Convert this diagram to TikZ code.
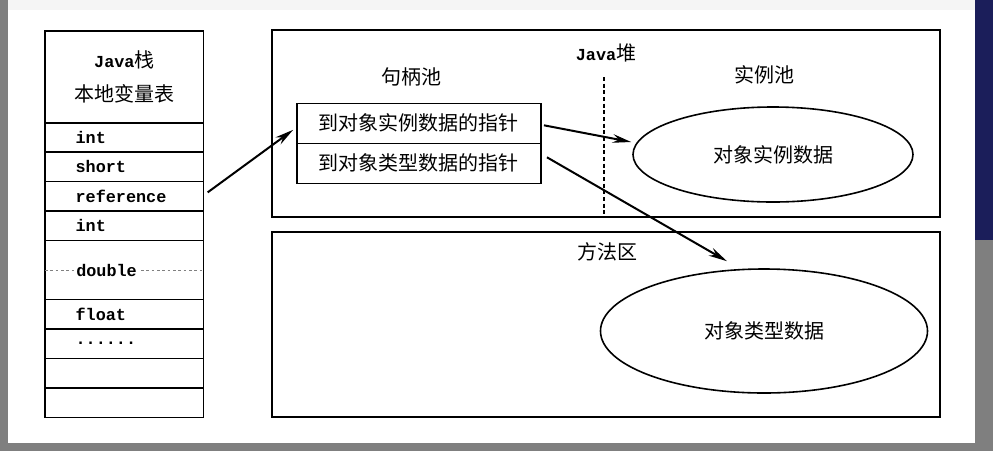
\documentclass[tikz,border=0pt]{standalone}
\usepackage{fontspec}
\setmonofont{Liberation Mono}
\newfontfamily\cjk{Noto Sans CJK SC}
\usetikzlibrary{positioning}
\usetikzlibrary{shapes.geometric}
\usetikzlibrary{arrows.meta}
\usetikzlibrary{calc}
\definecolor{pagegray}{HTML}{7F7F7F}
\definecolor{topgray}{HTML}{F5F5F5}
\definecolor{navy}{HTML}{1B1E5A}
\newcommand{\jtt}[1]{{\ttfamily\bfseries\fontsize{12.6}{18}\selectfont #1}}
\tikzset{
 box/.style={draw,line width=1.2pt,inner sep=0pt,outer sep=0pt},
 slot/.style={box,minimum width=119pt,minimum height=22.1pt,text width=73pt,inner xsep=23pt,align=left,font=\ttfamily\bfseries\fontsize{12.6}{14}\selectfont},
 zh/.style={font=\cjk\fontsize{15}{18}\selectfont},
 hcell/.style={box,zh,minimum width=183.2pt,minimum height=30pt},
 blob/.style={draw,ellipse,line width=1.2pt,inner sep=0pt,zh},
 ptr/.style={line width=1.5pt,-{Stealth[length=14pt,width=6.5pt]}},
}

\begin{document}
\begin{tikzpicture}[x=0.75pt,y=-0.75pt]
 \useasboundingbox (0,0) rectangle (993,451);
 \fill[pagegray] (0,0) rectangle (993,451);
 \fill[navy] (975,0) rectangle (993,240);
 \fill[topgray] (8,0) rectangle (975,10);
 \fill[white] (8,10) rectangle (975,443);

 \node[box,zh,minimum width=119pt,minimum height=69pt,align=center,anchor=north west] (stk) at (45,30.7) {\jtt{Java}栈\\[7.5pt]本地变量表};
 \node[slot,below=0pt of stk] (s1) {int};
 \node[slot,below=0pt of s1] (s2) {short};
 \node[slot,below=0pt of s2] (sref) {reference};
 \node[slot,below=0pt of sref] (s4) {int};
 \node[slot,below=0pt of s4,minimum height=44.2pt] (sdbl) {};
 \node[slot,below=0pt of sdbl] (s6) {float};
 \node[slot,below=0pt of s6] (s7) {......};
 \node[slot,below=0pt of s7] (s8) {};
 \node[slot,below=0pt of s8] (s9) {};
 \draw[gray,dash pattern=on 2pt off 2pt] (sdbl.west) -- (sdbl.east);
 \node[fill=white,inner sep=1.5pt,anchor=west,font=\ttfamily\bfseries\fontsize{12.6}{14}\selectfont] (dbl) at ($(sdbl.west)+(29,0)$) {double};

 \node[box,minimum width=501pt,minimum height=140.25pt,anchor=north west] (heap) at (272,30) {};
 \node[zh,inner sep=0pt] (heapttl) at (606,53) {\jtt{Java}堆};
 \node[zh] (hpool) at (411,77) {句柄池};
 \node[zh] (ipool) at (764,75) {实例池};
 \draw[densely dashed,line width=0.8pt] (604,77) -- (604,215);
 \node[hcell,anchor=north west] (hinst) at (296.7,103.3) {到对象实例数据的指针};
 \node[hcell,below=0pt of hinst] (htype) {到对象类型数据的指针};
 \node[blob,minimum width=210pt,minimum height=71.25pt] (oinst) at (773,154.5) {对象实例数据};

 \node[box,minimum width=501pt,minimum height=138.75pt,anchor=north west] (meth) at (272,232) {};
 \node[zh] (methttl) at (607,252) {方法区};
 \node[blob,minimum width=245.25pt,minimum height=93pt] (otype) at (764,331) {对象类型数据};

 \draw[ptr] ($(sref.east)+(4,-4)$) -- ($(hinst.west)+(-3.5,6.5)$);
 \draw[ptr] ($(hinst.east)+(3,2)$) -- ($(oinst.west)+(-1,-12.5)$);
 \draw[ptr] ($(htype.east)+(6,-6)$) -- ($(otype.north)+(-37,-7)$);
\end{tikzpicture}
\end{document}
